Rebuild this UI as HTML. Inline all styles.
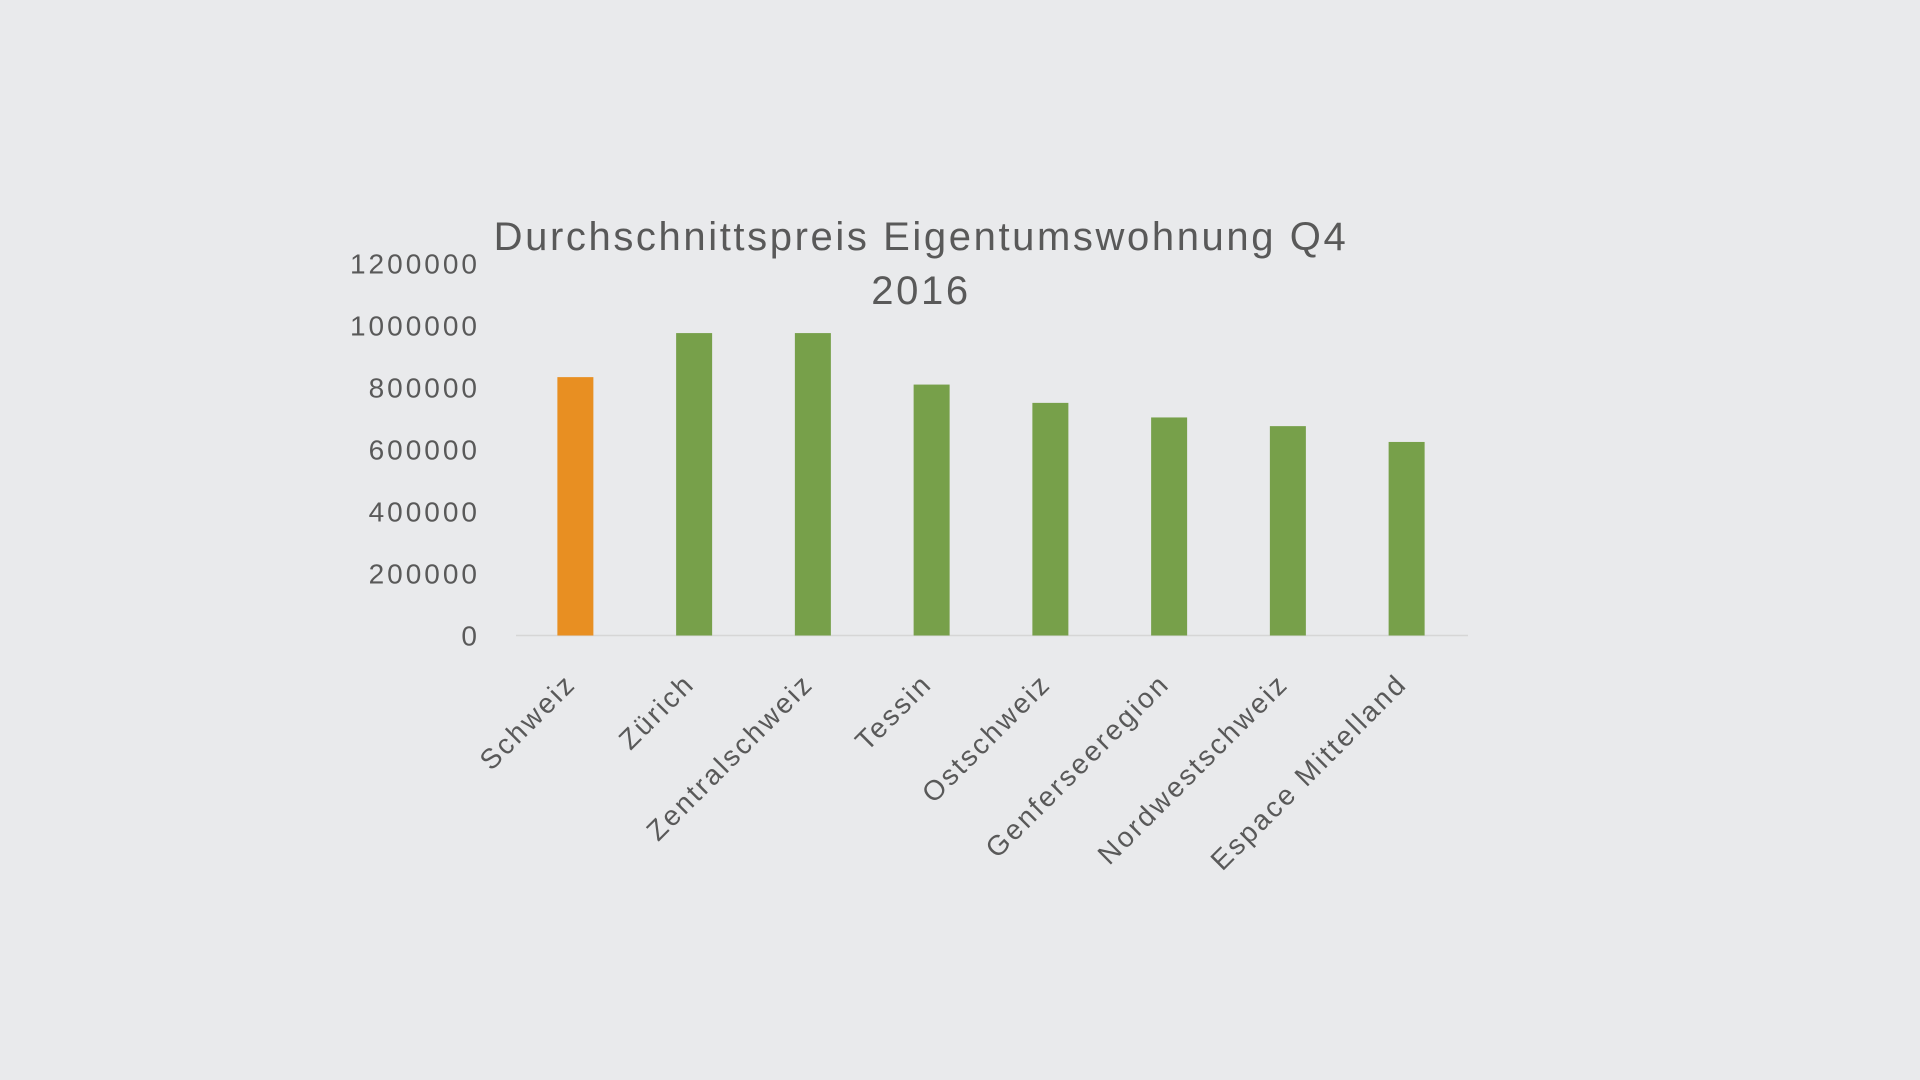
<!DOCTYPE html>
<html><head><meta charset="utf-8"><style>
html,body{margin:0;padding:0;background:#e9eaec;}
svg{display:block;font-family:"Liberation Sans",sans-serif;}
</style></head><body>
<svg width="1920" height="1080">
<rect width="1920" height="1080" fill="#e9eaec"/>
<text x="921" y="250" text-anchor="middle" font-size="40" letter-spacing="2.6" fill="#595959">Durchschnittspreis Eigentumswohnung Q4</text>
<text x="921" y="304" text-anchor="middle" font-size="40" letter-spacing="2.6" fill="#595959">2016</text>
<g id="plot"></g>
</svg>
<script>
const categories=["Schweiz","Zürich","Zentralschweiz","Tessin","Ostschweiz","Genferseeregion","Nordwestschweiz","Espace Mittelland"];
const values=[833000,975000,975000,809000,750000,703000,675000,624000];
const yTicks=[0,200000,400000,600000,800000,1000000,1200000];
const colors=["#e88f22","#77a04a","#77a04a","#77a04a","#77a04a","#77a04a","#77a04a","#77a04a"];
const NS="http://www.w3.org/2000/svg";
const g=document.getElementById('plot');
const x0=516,x1=1466,yBase=635.5,yTop=263.3,yMax=1200000;
const bw=(x1-x0)/categories.length;
function y(v){return yBase-(v/yMax)*(yBase-yTop);}
function xc(i){return x0+bw*(i+0.5);}
function mk(t,a){const e=document.createElementNS(NS,t);for(const k in a)e.setAttribute(k,a[k]);g.appendChild(e);return e;}
yTicks.forEach(v=>{
 const t=mk('text',{x:480,y:y(v)+10,'text-anchor':'end','font-size':'28','letter-spacing':'3',fill:'#595959'});
 
 
 t.textContent=String(v);
});
const ax=mk('line',{x1:x0,x2:x1+2,y1:yBase,y2:yBase,stroke:'#d6d6d6','stroke-width':'1.5'});


values.forEach((v,i)=>{
 const r=mk('rect',{x:xc(i)-18,y:y(v),width:36,height:yBase-y(v),fill:colors[i]});
 
 
 const lx=xc(i)+2,ly=yBase+50;
 const t=mk('text',{x:lx,y:ly,'text-anchor':'end','font-size':'28','letter-spacing':'2.5',fill:'#595959',transform:`rotate(-45 ${lx} ${ly})`});
 
 
 t.textContent=categories[i];
});
</script>
</body></html>
